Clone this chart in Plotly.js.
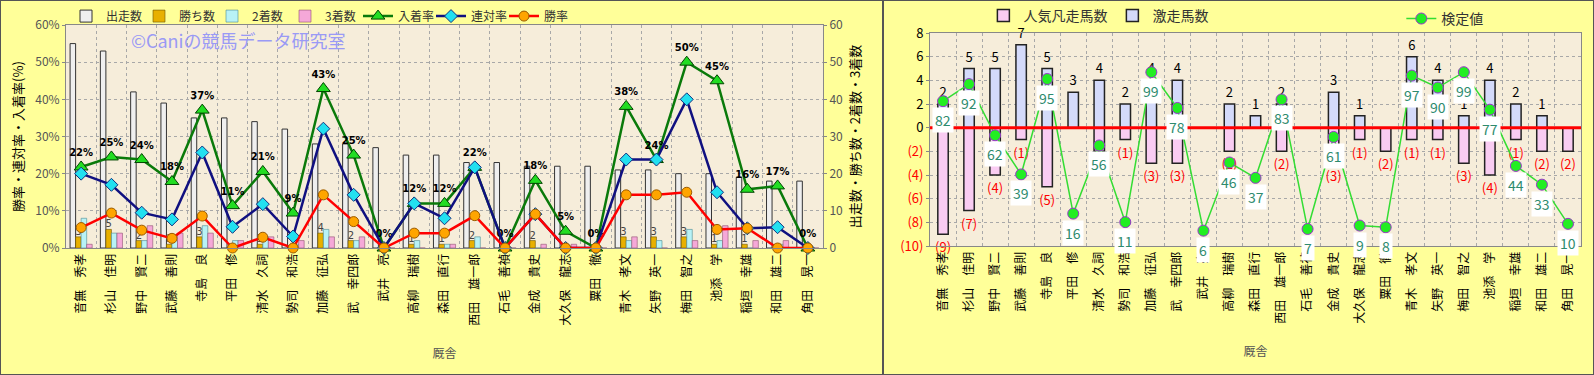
<!DOCTYPE html>
<html><head><meta charset="utf-8">
<script src="https://cdn.plot.ly/plotly-3.0.1.min.js"></script>
<style>
html,body{margin:0;padding:0;background:#FFFF99;width:1594px;height:375px;overflow:hidden;}
#c1{position:absolute;left:0;top:0;width:881px;height:373px;border:1px solid #555;}
#c2{position:absolute;left:883px;top:0;width:709px;height:373px;border:1px solid #555;}
</style></head><body>
<div id="c1"></div><div id="c2"></div>
<script>
// ---- data ----
const trainers = ['音無　秀孝','杉山　佳明','野中　賢二','武藤　善則','寺島　良','平田　修','清水　久詞','勢司　和浩','加藤　征弘','武　幸四郎','武井　亮','高柳　瑞樹','森田　直行','西田　雄一郎','石毛　善禎','金成　貴史','大久保　龍志','粟田　徹','青木　孝文','矢野　英一','梅田　智之','池添　学','稲垣　幸雄','和田　雄二','角田　晃一'];
const starts = [55,53,42,39,35,35,34,32,28,28,27,25,25,23,23,22,22,22,21,21,20,20,19,18,18];
const wins   = [3,5,2,1,3,0,1,0,4,2,0,1,1,2,0,2,0,0,3,3,3,1,1,0,0];
const second = [8,4,2,2,6,2,3,1,5,2,0,2,1,3,0,0,0,0,2,2,5,2,0,1,0];
const third  = [1,4,6,4,4,2,3,2,3,3,0,0,1,0,0,1,1,0,3,0,2,6,2,2,0];
const placeRate = [21.8,24.5,23.8,17.9,37.1,11.4,20.6,9.4,42.9,25,0,12,12,21.7,0,18.2,4.5,0,38.1,23.8,50,45,15.8,16.7,0];
const rentaiRate = [20,17,9.5,7.7,25.7,5.7,11.8,3.1,32.1,14.3,0,12,8,21.7,0,9.1,0,0,23.8,23.8,40,15,5.3,5.6,0];
const winRate = [5.5,9.4,4.8,2.6,8.6,0,2.9,0,14.3,7.1,0,4,4,8.7,0,9.1,0,0,14.3,14.3,15,5,5.3,0,0];
const placeLabels = ['22%','25%','24%','18%','37%','11%','21%','9%','43%','25%','0%','12%','12%','22%','0%','18%','5%','0%','38%','24%','50%','45%','16%','17%','0%'];

const surge = [2,5,5,7,5,3,4,2,4,4,0,2,1,2,0,3,1,0,6,4,1,4,2,1,0];
const flop  = [-9,-7,-4,-1,-5,0,-2,-1,-3,-3,0,-2,0,-2,0,-3,-1,-2,-1,-1,-3,-4,-1,-2,-2];
const testVal = [82,92,62,39,95,16,56,11,99,78,6,46,37,83,7,61,9,8,97,90,99,77,44,33,10];
const rightTicks = [8,6,4,2,0,-2,-4,-6,-8,-10];

// ---- common ----
const FONT = '"Noto Sans CJK JP","Noto Sans",sans-serif';
const GRID = '#A8A8A8';
const PLOTBG = '#F6EDDA';
const PAPER = '#FFFF99';
const winLabels = wins.map(v => v > 0 ? String(v) : '');
const nCat = trainers.length;

const xaxisBase = {
  type:'category', range:[-0.5, nCat - 0.5], tickangle:-90, tickson:'boundaries', ticks:'',
  showgrid:true, gridcolor:GRID, griddash:'dot', gridwidth:1,
  showline:true, linecolor:'#888', mirror:true,
  tickfont:{size:12, color:'#000', family:FONT},
  title:{text:'厩舎', font:{size:12, color:'#555', family:FONT}, standoff:24}
};

// ---- left chart ----
const t1 = [
  {type:'bar', name:'出走数', x:trainers, y:starts, marker:{color:'#EFEFEF', line:{color:'#333', width:1}}},
  {type:'bar', name:'勝ち数', x:trainers, y:wins, marker:{color:'#E8B000', line:{color:'#6B5500', width:0.6}},
   text:winLabels, textposition:'outside', textfont:{size:10, color:'#444', family:'DejaVu Sans'}, constraintext:'none', cliponaxis:false},
  {type:'bar', name:'2着数', x:trainers, y:second, marker:{color:'#B8F2F6', line:{color:'#4A8A90', width:0.6}}},
  {type:'bar', name:'3着数', x:trainers, y:third, marker:{color:'#F5A8D8', line:{color:'#905070', width:0.6}}},
  {type:'scatter', name:'入着率', x:trainers, y:placeRate, yaxis:'y2', mode:'lines+markers+text',
   text:placeLabels, textposition:'top center', textfont:{size:10, color:'#000', family:'DejaVu Sans', weight:'bold'},
   line:{color:'#0A7A0A', width:2.5}, marker:{symbol:'triangle-up', size:12, color:'#22DD22', line:{color:'#004400', width:1}}, cliponaxis:false},
  {type:'scatter', name:'連対率', x:trainers, y:rentaiRate, yaxis:'y2', mode:'lines+markers',
   line:{color:'#101080', width:2.5}, marker:{symbol:'diamond', size:10, color:'#22E0F0', line:{color:'#103080', width:1}}, cliponaxis:false},
  {type:'scatter', name:'勝率', x:trainers, y:winRate, yaxis:'y2', mode:'lines+markers',
   line:{color:'#FF0000', width:2.5}, marker:{symbol:'circle', size:10, color:'#FFA500', line:{color:'#9A5A00', width:1}}, cliponaxis:false}
];
const l1 = {
  width:881, height:373, margin:{l:65, r:59, t:24, b:126, autoexpand:false},
  paper_bgcolor:PAPER, plot_bgcolor:PLOTBG,
  barmode:'group', bargap:0.27, bargroupgap:0,
  font:{family:FONT, size:12, color:'#000'},
  showlegend:true,
  legend:{orientation:'h', x:0.0, xanchor:'left', y:1.04, yanchor:'middle', entrywidth:28,
          font:{size:12, color:'#333', family:FONT}, bgcolor:'rgba(0,0,0,0)', traceorder:'normal'},
  xaxis:xaxisBase,
  yaxis:{side:'right', range:[0,60], dtick:10, showgrid:true, gridcolor:GRID, griddash:'dot', zeroline:false,
         showline:true, linecolor:'#888', ticks:'outside', ticklen:3, tickcolor:'#888',
         tickfont:{size:12, color:'#555', family:FONT},
         title:{text:'出走数・勝ち数・2着数・3着数', font:{size:13, color:'#000', family:FONT}, standoff:8}},
  yaxis2:{overlaying:'y', side:'left', range:[0,60], dtick:10, ticksuffix:'%', showgrid:false, zeroline:false,
          showline:true, linecolor:'#888', ticks:'outside', ticklen:3, tickcolor:'#888',
          tickfont:{size:12, color:'#555', family:FONT},
          title:{text:'勝率・連対率・入着率(%)', font:{size:13, color:'#000', family:FONT}, standoff:8}},
  annotations:[{xref:'paper', yref:'paper', x:0.2285, y:0.933, xanchor:'center', yanchor:'middle',
                text:'©Caniの競馬データ研究室', showarrow:false, font:{size:18, color:'#9A9AF5', family:FONT}}]
};
Plotly.newPlot('c1', t1, l1, {displayModeBar:false, staticPlot:true});

// ---- right chart ----
const flopLabels = flop.map(v => v < 0 ? '(' + (-v) + ')' : '');
const surgeLabels = surge.map(v => v > 0 ? String(v) : '');
const t2 = [
  {type:'bar', name:'人気凡走馬数', x:trainers, y:flop, width:0.4,
   marker:{color:'#F9CCF2', line:{color:'#222', width:1.5}},
   text:flopLabels, textposition:'outside', textfont:{size:13, color:'#FF0000', family:FONT}, constraintext:'none', cliponaxis:false, legend:'legend'},
  {type:'bar', name:'激走馬数', x:trainers, y:surge, width:0.4,
   marker:{color:'#D4DAFA', line:{color:'#222', width:1.5}},
   text:surgeLabels, textposition:'outside', textfont:{size:13, color:'#000', family:FONT}, constraintext:'none', cliponaxis:false, legend:'legend'},
  {type:'scatter', name:'検定値', x:trainers, y:testVal, yaxis:'y2', mode:'lines+markers',
   line:{color:'#33DD33', width:1.5}, marker:{size:11, color:'#22EE22', line:{color:'#9933CC', width:1}}, cliponaxis:false, legend:'legend2'}
];
const l2 = {
  width:709, height:373, margin:{l:46, r:12, t:32, b:128, autoexpand:false},
  paper_bgcolor:PAPER, plot_bgcolor:PLOTBG, barmode:'overlay',
  font:{family:FONT, size:12, color:'#000'},
  showlegend:true,
  legend:{orientation:'h', x:0.082, xanchor:'left', y:1.08, yanchor:'middle', entrywidth:84, font:{size:14, color:'#333', family:FONT}, bgcolor:'rgba(0,0,0,0)'},
  legend2:{orientation:'h', x:0.724, xanchor:'left', y:1.066, yanchor:'middle', font:{size:14, color:'#333', family:FONT}, bgcolor:'rgba(0,0,0,0)'},
  xaxis:xaxisBase,
  yaxis:{range:[-10,8], tickvals:rightTicks,
         ticktext:rightTicks.map(v => v < 0 ? '<span style="color:#FF0000">(' + (-v) + ')</span>' : String(v)),
         showgrid:true, gridcolor:GRID, griddash:'dot', zeroline:false,
         showline:true, linecolor:'#888', mirror:true, ticks:'outside', ticklen:3, tickcolor:'#888',
         tickfont:{size:13, color:'#000', family:FONT}},
  yaxis2:{overlaying:'y', range:[-3,122], visible:false},
  shapes:[{type:'line', xref:'paper', x0:0, x1:1, yref:'y', y0:0, y1:0, line:{color:'#FF0000', width:3}, layer:'above'}],
  annotations: testVal.map((v,i) => ({x:trainers[i], y:v, xref:'x', yref:'y2', text:String(v), showarrow:false,
     yshift:-19, bgcolor:'#FFFFFF', borderpad:2, font:{size:14, color:'#2E8B6E', family:FONT}}))
};
Plotly.newPlot('c2', t2, l2, {displayModeBar:false, staticPlot:true});
</script>
</body></html>
